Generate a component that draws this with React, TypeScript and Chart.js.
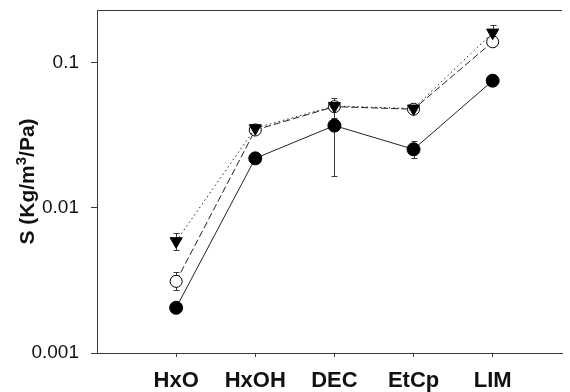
import React, { useEffect, useRef } from "react";
import { Chart, registerables } from "chart.js";

Chart.register(...registerables);

// Compounds along the x axis
const compounds = ["HxO", "HxOH", "DEC", "EtCp", "LIM"];

// Y axis decades shown as labelled ticks
const yTicks = [0.001, 0.01, 0.1];

// Filled circles, solid line
const solidValues = [0.00205, 0.022, 0.037, 0.0254, 0.0755];
const solidLow: (number | null)[] = [null, null, 0.0167, 0.022, null];
const solidHigh: (number | null)[] = [null, null, 0.0405, 0.0291, null];

// Open circles, dashed line
const openValues = [0.00312, 0.0345, 0.05, 0.048, 0.14];
const openLow: (number | null)[] = [0.0027, null, null, null, null];
const openHigh: (number | null)[] = [0.0036, null, null, null, null];

// Filled down-triangles, dotted line
const triValues = [0.0059, 0.0355, 0.0505, 0.0485, 0.162];
const triLow: (number | null)[] = [0.00513, null, 0.042, null, null];
const triHigh: (number | null)[] = [0.00676, null, 0.0574, null, 0.183];

// Y axis title, split around the superscript
const yTitleParts = [
  { text: "S (Kg/m", sup: false },
  { text: "3", sup: true },
  { text: "/Pa)", sup: false },
];

const INK = "#222";
const FRAME = "#3a3a3a";
const FONT = "Liberation Sans, Arial, sans-serif";

const errorBars = [
  { low: solidLow, high: solidHigh },
  { low: openLow, high: openHigh },
  { low: triLow, high: triHigh },
];

const errorBarPlugin = {
  id: "errorBars",
  beforeDatasetsDraw(chart: any) {
    const { ctx } = chart;
    const yScale = chart.scales.y;
    ctx.save();
    ctx.strokeStyle = FRAME;
    ctx.lineWidth = 1;
    errorBars.forEach((eb, di) => {
      const meta = chart.getDatasetMeta(di);
      meta.data.forEach((pt: any, i: number) => {
        const x = Math.round(pt.x) + 0.5;
        const ends = [eb.low[i], eb.high[i]];
        ends.forEach((v) => {
          if (v == null) return;
          const y = Math.round(yScale.getPixelForValue(v)) + 0.5;
          ctx.beginPath();
          ctx.moveTo(x, pt.y);
          ctx.lineTo(x, y);
          ctx.moveTo(x - 3, y);
          ctx.lineTo(x + 3, y);
          ctx.stroke();
        });
      });
    });
    ctx.restore();
  },
};

// Top edge of the plot frame and the rotated y title with its superscript
const framePlugin = {
  id: "frameAndTitle",
  afterDraw(chart: any) {
    const { ctx, chartArea } = chart;
    ctx.save();
    ctx.strokeStyle = FRAME;
    ctx.lineWidth = 1;
    ctx.beginPath();
    const y = Math.round(chartArea.top) + 0.5;
    ctx.moveTo(chartArea.left, y);
    ctx.lineTo(chartArea.right, y);
    ctx.stroke();
    ctx.restore();

    const mainFont = `bold 21px ${FONT}`;
    const supFont = `bold 15px ${FONT}`;
    ctx.save();
    ctx.fillStyle = "#111";
    ctx.textBaseline = "alphabetic";
    ctx.textAlign = "left";
    const widths = yTitleParts.map((p) => {
      ctx.font = p.sup ? supFont : mainFont;
      return ctx.measureText(p.text).width;
    });
    const total = widths.reduce((a, b) => a + b, 0);
    const cy = (chartArea.top + chartArea.bottom) / 2;
    ctx.translate(34, cy);
    ctx.rotate(-Math.PI / 2);
    let x = -total / 2;
    yTitleParts.forEach((p, i) => {
      ctx.font = p.sup ? supFont : mainFont;
      ctx.fillText(p.text, x, p.sup ? -8 : 0);
      x += widths[i];
    });
    ctx.restore();
  },
};

const toPoints = (vals: number[]) => vals.map((v, i) => ({ x: i + 1, y: v }));

export default function App() {
  const canvasRef = useRef<HTMLCanvasElement | null>(null);

  useEffect(() => {
    if (!canvasRef.current) return;
    const chart = new Chart(canvasRef.current, {
      type: "line",
      data: {
        datasets: [
          {
            data: toPoints(solidValues),
            borderColor: INK,
            borderWidth: 1,
            pointStyle: "circle",
            pointRadius: 6.5,
            pointBackgroundColor: "#000",
            pointBorderColor: "#000",
            pointBorderWidth: 1,
            order: 1,
          },
          {
            data: toPoints(openValues),
            borderColor: INK,
            borderWidth: 1,
            borderDash: [7, 3],
            pointStyle: "circle",
            pointRadius: 6,
            pointBackgroundColor: "#fff",
            pointBorderColor: "#000",
            pointBorderWidth: 1,
            order: 2,
          },
          {
            data: toPoints(triValues),
            borderColor: INK,
            borderWidth: 1,
            borderDash: [1.5, 3],
            pointStyle: "triangle",
            pointRotation: 180,
            pointRadius: 7,
            pointBackgroundColor: "#000",
            pointBorderColor: "#000",
            pointBorderWidth: 1,
            order: 0,
          },
        ],
      },
      options: {
        animation: false,
        responsive: false,
        devicePixelRatio: 1,
        layout: { padding: { top: 10, right: 0, left: 0, bottom: 0 } },
        plugins: {
          legend: { display: false },
          tooltip: { enabled: false },
        },
        scales: {
          x: {
            type: "linear",
            min: 0,
            max: 5.876,
            afterBuildTicks: (scale: any) => {
              scale.ticks = compounds.map((_, i) => ({ value: i + 1 }));
            },
            afterFit: (scale: any) => {
              scale.height = 39;
              scale.paddingLeft = 0;
              scale.paddingRight = 0;
            },
            border: { display: true, color: FRAME, width: 1 },
            grid: {
              display: true,
              drawOnChartArea: false,
              drawTicks: true,
              tickLength: 4,
              color: FRAME,
            },
            ticks: {
              autoSkip: false,
              maxRotation: 0,
              padding: 11,
              color: "#111",
              font: { family: FONT, size: 22, weight: "bold" },
              callback: (v: any) => compounds[Number(v) - 1] ?? "",
            },
          },
          y: {
            type: "logarithmic",
            min: 0.001,
            max: 0.232,
            afterBuildTicks: (scale: any) => {
              scale.ticks = yTicks.map((v) => ({ value: v, major: true }));
            },
            afterFit: (scale: any) => {
              scale.width = 97;
              scale.paddingTop = 0;
              scale.paddingBottom = 0;
            },
            border: { display: true, color: FRAME, width: 1 },
            grid: {
              display: true,
              drawOnChartArea: false,
              drawTicks: true,
              tickLength: 6,
              color: FRAME,
            },
            ticks: {
              padding: 12,
              color: "#111",
              font: { family: FONT, size: 19 },
              callback: (v: any) => String(v),
            },
            title: { display: false },
          },
        },
      },
      plugins: [errorBarPlugin, framePlugin],
    } as any);
    return () => chart.destroy();
  }, []);

  return (
    <div style={{ position: "fixed", left: 0, top: 0, width: 570, height: 392, background: "#fff" }}>
      <canvas ref={canvasRef} width={570} height={392} />
    </div>
  );
}
